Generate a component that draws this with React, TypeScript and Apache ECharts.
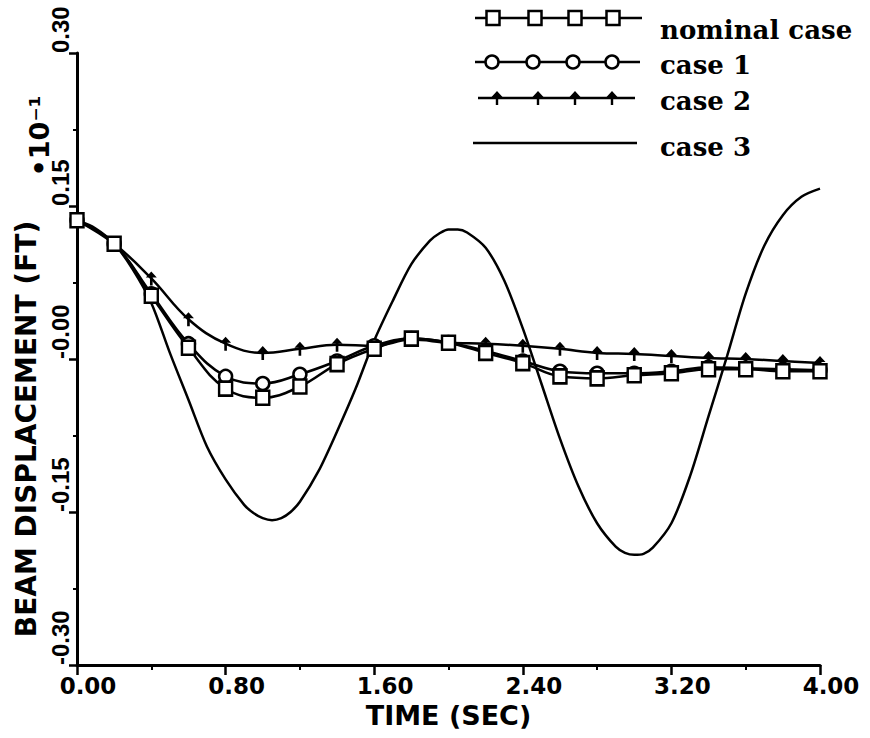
import React, { useEffect, useRef } from "react";
import * as echarts from "echarts";

// Time (s) of the marked points of the first three cases
const timeMarked = [0, 0.2, 0.4, 0.6, 0.8, 1.0, 1.2, 1.4, 1.6, 1.8, 2.0, 2.2, 2.4, 2.6, 2.8, 3.0, 3.2, 3.4, 3.6, 3.8, 4.0];
// Beam displacement (*10^-1 ft)
const nominalCase = [0.136, 0.113, 0.062, 0.011, -0.029, -0.038, -0.027, -0.005, 0.010, 0.020, 0.016, 0.006, -0.004, -0.017, -0.019, -0.016, -0.014, -0.010, -0.010, -0.012, -0.012];
const case1 = [0.136, 0.113, 0.064, 0.015, -0.017, -0.024, -0.015, -0.002, 0.013, 0.020, 0.016, 0.008, -0.002, -0.012, -0.014, -0.014, -0.012, -0.008, -0.009, -0.010, -0.011];
const case2 = [0.136, 0.113, 0.079, 0.039, 0.015, 0.006, 0.010, 0.014, 0.013, 0.019, 0.016, 0.015, 0.013, 0.010, 0.006, 0.005, 0.003, 0.001, 0.000, -0.002, -0.004];
// Case 3
const timeCase3 = [0, 0.1, 0.2, 0.3, 0.4, 0.5, 0.6, 0.7, 0.8, 0.9, 0.95, 1.0, 1.05, 1.1, 1.15, 1.2, 1.3, 1.4, 1.5, 1.6, 1.7, 1.8, 1.9, 1.95, 2.0, 2.05, 2.1, 2.2, 2.3, 2.4, 2.5, 2.6, 2.7, 2.8, 2.9, 2.95, 3.0, 3.05, 3.1, 3.2, 3.3, 3.4, 3.5, 3.6, 3.7, 3.8, 3.9, 4.0];
const case3 = [0.136, 0.128, 0.113, 0.088, 0.055, 0.006, -0.040, -0.086, -0.118, -0.143, -0.151, -0.156, -0.158, -0.156, -0.150, -0.140, -0.110, -0.071, -0.029, 0.018, 0.057, 0.093, 0.116, 0.123, 0.127, 0.127, 0.124, 0.109, 0.077, 0.030, -0.024, -0.078, -0.125, -0.161, -0.184, -0.190, -0.192, -0.191, -0.185, -0.161, -0.115, -0.056, 0.003, 0.064, 0.111, 0.141, 0.159, 0.167];

const seriesNames = ["nominal case", "case 1", "case 2", "case 3"];

const INK = "#000";
const SANS = "'DejaVu Sans', 'Liberation Sans', sans-serif";
const NARROW = "'Liberation Sans', 'DejaVu Sans', sans-serif";
const SERIF = "'DejaVu Serif', 'Liberation Serif', serif";
const ARROW = "path://M5,0 L10,6 L6.2,6 L6.2,14 L3.8,14 L3.8,6 L0,6 Z";

function legendGraphics() {
  const rows = [18, 62, 98, 143];
  const textY = [30, 65, 101, 147];
  const markX = [
    [493, 535, 575, 613],
    [492, 533, 573, 612],
    [497, 538, 575, 612],
  ];
  const lineX = [
    [475, 642],
    [475, 640],
    [478, 635],
    [473, 637],
  ];
  const els: any[] = [];
  rows.forEach((y, i) => {
    els.push({
      type: "line",
      shape: { x1: lineX[i][0], y1: y, x2: lineX[i][1], y2: y },
      style: { stroke: INK, lineWidth: 2.5 },
      z: 10,
    });
    if (i < 3) {
      markX[i].forEach((x) => {
        if (i === 0) {
          els.push({ type: "rect", shape: { x: x - 6.5, y: y - 7, width: 13, height: 14 }, style: { fill: "#fff", stroke: INK, lineWidth: 2.5 }, z: 11 });
        } else if (i === 1) {
          els.push({ type: "circle", shape: { cx: x, cy: y, r: 6.5 }, style: { fill: "#fff", stroke: INK, lineWidth: 2.5 }, z: 11 });
        } else {
          els.push({
            type: "polygon",
            shape: { points: [[x, y - 7], [x + 5.5, y - 1], [x + 1.2, y - 1], [x + 1.2, y + 7], [x - 1.2, y + 7], [x - 1.2, y - 1], [x - 5.5, y - 1]] },
            style: { fill: INK },
            z: 11,
          });
        }
      });
    }
    els.push({
      type: "text",
      x: 660,
      y: textY[i],
      style: { text: seriesNames[i], fill: INK, font: `bold 26px ${SERIF}`, align: "left", verticalAlign: "middle" },
      z: 11,
    });
  });
  els.push({
    type: "text",
    x: 39,
    y: 136,
    rotation: Math.PI / 2,
    style: { text: "•10⁻¹", fill: INK, font: `bold 27px ${SANS}`, align: "center", verticalAlign: "middle" },
  });
  return els;
}

export default function App() {
  const ref = useRef<HTMLDivElement>(null);
  useEffect(() => {
    document.body.style.margin = "0";
    if (!ref.current) return;
    const chart = echarts.init(ref.current, null, { renderer: "svg" });
    const lineBase = { type: "line", smooth: 0.4, lineStyle: { color: INK, width: 2.5 }, itemStyle: { color: "#fff", borderColor: INK, borderWidth: 2.5 } };
    chart.setOption({
      animation: false,
      backgroundColor: "#fff",
      grid: { left: 77, right: 50, top: 53, bottom: 73, containLabel: false, outerBoundsMode: "none" },
      xAxis: {
        type: "value",
        min: 0,
        max: 4,
        interval: 0.8,
        name: "TIME (SEC)",
        nameLocation: "middle",
        nameGap: 33,
        nameTextStyle: { color: INK, fontFamily: SANS, fontWeight: "bold", fontSize: 27 },
        axisLine: { show: true, onZero: false, lineStyle: { color: INK, width: 3 } },
        axisTick: { show: true, length: 10, lineStyle: { color: INK, width: 2.5 } },
        minorTick: { show: true, splitNumber: 2, length: 5, lineStyle: { color: INK, width: 2 } },
        splitLine: { show: false },
        axisLabel: {
          color: INK,
          fontFamily: SANS,
          fontWeight: "bold",
          fontSize: 23,
          margin: 9,
          align: "center",
          padding: [0, 0, 0, 22],
          formatter: (v: number) => v.toFixed(2),
        },
      },
      yAxis: {
        type: "value",
        min: -0.3,
        max: 0.3,
        interval: 0.15,
        name: "BEAM DISPLACEMENT (FT)",
        nameLocation: "middle",
        nameGap: 38,
        nameRotate: 90,
        nameTextStyle: { color: INK, fontFamily: SANS, fontWeight: "bold", fontSize: 28, align: "center", verticalAlign: "middle", padding: [0, 140, 0, 0] },
        axisLine: { show: true, onZero: false, lineStyle: { color: INK, width: 3 } },
        axisTick: { show: true, length: 8, lineStyle: { color: INK, width: 2.5 } },
        minorTick: { show: true, splitNumber: 2, length: 4, lineStyle: { color: INK, width: 2 } },
        splitLine: { show: false },
        axisLabel: {
          color: INK,
          fontFamily: NARROW,
          fontWeight: "bold",
          fontSize: 24,
          rotate: 90,
          align: "left",
          verticalAlign: "middle",
          margin: 17,
          formatter: (v: number) => (Math.abs(v) < 1e-9 ? "-0.00" : v.toFixed(2)),
        },
      },
      graphic: legendGraphics(),
      series: [
        { ...lineBase, name: seriesNames[3], data: timeCase3.map((t, i) => [t, case3[i]]), showSymbol: false, smooth: 0.3, z: 1 },
        { ...lineBase, name: seriesNames[2], data: timeMarked.map((t, i) => [t, case2[i]]), symbol: ARROW, symbolSize: [11, 14], itemStyle: { color: INK }, z: 2 },
        { ...lineBase, name: seriesNames[1], data: timeMarked.map((t, i) => [t, case1[i]]), symbol: "circle", symbolSize: 13, z: 3 },
        { ...lineBase, name: seriesNames[0], data: timeMarked.map((t, i) => [t, nominalCase[i]]), symbol: "rect", symbolSize: [13, 14], z: 4 },
      ],
    });
    return () => chart.dispose();
  }, []);
  return <div ref={ref} style={{ width: 870, height: 738 }} />;
}
